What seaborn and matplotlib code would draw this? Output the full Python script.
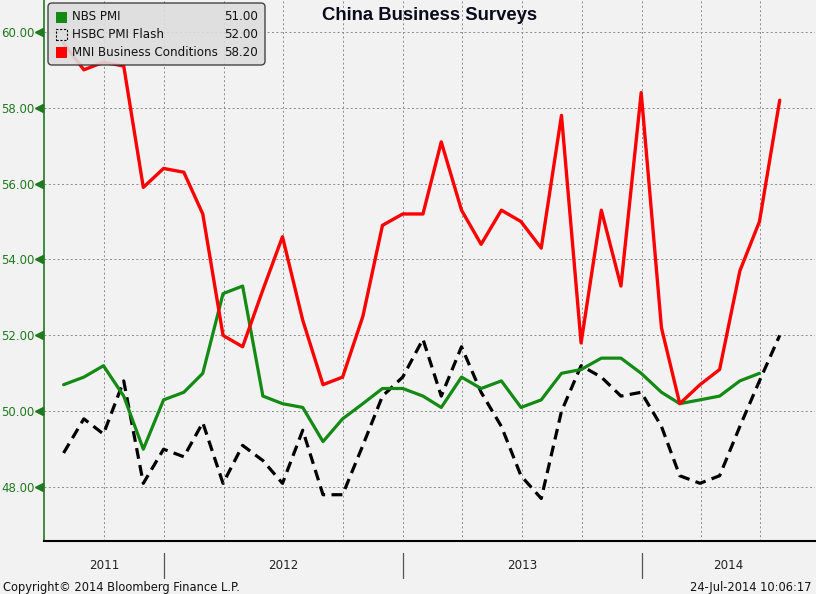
import numpy as np
import pandas as pd
import matplotlib.pyplot as plt
import matplotlib.transforms as mtransforms
from matplotlib.patches import FancyBboxPatch, Rectangle
import seaborn as sns

# Monthly survey readings, Jul-2011 .. Jul-2014
dates = pd.date_range('2011-07-01', periods=37, freq='MS') + pd.offsets.MonthEnd(0)

nbs_pmi = [50.7, 50.9, 51.2, 50.4, 49.0, 50.3,
           50.5, 51.0, 53.1, 53.3, 50.4, 50.2, 50.1, 49.2, 49.8, 50.2, 50.6, 50.6,
           50.4, 50.1, 50.9, 50.6, 50.8, 50.1, 50.3, 51.0, 51.1, 51.4, 51.4, 51.0,
           50.5, 50.2, 50.3, 50.4, 50.8, 51.0]
hsbc_flash = [48.9, 49.8, 49.4, 50.8, 48.1, 49.0,
              48.8, 49.7, 48.1, 49.1, 48.7, 48.1, 49.5, 47.8, 47.8, 49.1, 50.4, 50.9,
              51.9, 50.4, 51.7, 50.5, 49.6, 48.3, 47.7, 50.0, 51.2, 50.9, 50.4, 50.5,
              49.6, 48.3, 48.1, 48.3, 49.6, 50.8, 52.0]
mni = [59.7, 59.0, 59.2, 59.1, 55.9, 56.4,
       56.3, 55.2, 52.0, 51.7, 53.2, 54.6, 52.4, 50.7, 50.9, 52.5, 54.9, 55.2,
       55.2, 57.1, 55.3, 54.4, 55.3, 55.0, 54.3, 57.8, 51.8, 55.3, 53.3, 58.4,
       52.2, 50.2, 50.7, 51.1, 53.7, 55.0, 58.2]

series_names = ['NBS PMI', 'HSBC PMI Flash', 'MNI Business Conditions']
years = [2011, 2012, 2013, 2014]

bg = '#f2f2f2'
green = '#138a13'
red = '#ff0000'
axis_green = '#1f7a1f'

sns.set_style('white', rc={'axes.facecolor': bg, 'figure.facecolor': bg})
plt.rcParams['font.family'] = ['DejaVu Sans']

fig = plt.figure(figsize=(8.16, 5.94), dpi=100)
ax = fig.add_axes([44 / 816, 53 / 594, 771 / 816, 541 / 594])
ax.set_facecolor(bg)

sns.lineplot(x=dates, y=hsbc_flash, ax=ax, color='black', lw=2.3,
             linestyle=(0, (3.4, 2.0)), zorder=3)
sns.lineplot(x=dates[:len(nbs_pmi)], y=nbs_pmi, ax=ax, color=green, lw=2.3, zorder=4)
sns.lineplot(x=dates, y=mni, ax=ax, color=red, lw=2.4, zorder=5)
ax.set_xlabel('')
ax.set_ylabel('')

xmin = pd.Timestamp('2011-07-01')
xmax = pd.Timestamp('2014-09-23')
ax.set_xlim(xmin, xmax)
ax.set_ylim(46.58, 60.84)

# grid
yt = np.arange(48, 61, 2)
ax.set_yticks(yt)
ax.set_yticks(np.arange(47, 61, 2), minor=True)
ax.set_yticklabels([f'{v:.2f}' for v in yt])
quarters = pd.date_range('2011-10-01', '2014-07-01', freq='QS')
ax.set_xticks(quarters)
ax.set_xticklabels([])
ax.set_xticks(pd.date_range('2011-08-01', '2014-09-01', freq='MS'), minor=True)
ax.grid(True, which='major', color='#8a8a8a', lw=0.7, linestyle=(0, (2, 2.5)))
ax.tick_params(axis='x', which='major', length=0)
ax.tick_params(axis='x', which='minor', length=5, width=1, color='black', direction='out')
ax.tick_params(axis='y', which='major', length=0, pad=7, labelcolor=axis_green, labelsize=8.5)
ax.tick_params(axis='y', which='minor', length=4, width=1, color=axis_green, direction='out')

for s in ['top', 'right']:
    ax.spines[s].set_visible(False)
ax.spines['left'].set_color(axis_green)
ax.spines['left'].set_linewidth(1.2)
ax.spines['bottom'].set_color('black')
ax.spines['bottom'].set_linewidth(1.5)

# arrow-like y tick marks
ytrans = mtransforms.blended_transform_factory(ax.transAxes, ax.transData)
ax.plot(np.full(len(yt), -0.006), yt, marker='<', ms=6, color=axis_green, lw=0,
        transform=ytrans, clip_on=False, zorder=6)

# year labels and separators
xtrans = mtransforms.blended_transform_factory(ax.transData, ax.transAxes)
for y in years:
    a = max(pd.Timestamp(f'{y}-01-01'), xmin)
    b = min(pd.Timestamp(f'{y + 1}-01-01'), xmax)
    mid = a + (b - a) / 2
    ax.text(mid, -0.045, str(y), transform=xtrans, ha='center', va='center',
            fontsize=8.6, color='#222222')
    if y > years[0]:
        ax.plot([pd.Timestamp(f'{y}-01-01')] * 2, [-0.022, -0.068], transform=xtrans,
                color='#555555', lw=0.9, clip_on=False)

ax.text(0.5, 1 - 16 / 541, 'China Business Surveys', transform=ax.transAxes,
        ha='center', va='center', fontsize=13.3, fontweight='bold', color='#0a0a1a',
        family=['Liberation Sans', 'DejaVu Sans'])

# legend box
box = FancyBboxPatch((48, 594 - 65), 217, 62, boxstyle='round,pad=0,rounding_size=4',
                     transform=None, facecolor='#dddddd', edgecolor='#333333',
                     lw=1, alpha=0.9, zorder=7)
fig.patches.append(box)
last_vals = [nbs_pmi[-1], hsbc_flash[-1], mni[-1]]
swatch = [dict(facecolor=green, edgecolor=green, lw=0),
          dict(facecolor='none', edgecolor='black', lw=0.8, linestyle=(0, (2, 1.5))),
          dict(facecolor=red, edgecolor=red, lw=0)]
for i, (name, val) in enumerate(zip(series_names, last_vals)):
    yc = 594 - (17 + i * 17.5)
    fig.patches.append(Rectangle((56, yc - 5.5), 11, 11, transform=None, zorder=8, **swatch[i]))
    fig.text(72 / 816, yc / 594, name, ha='left', va='center', fontsize=8.6,
             color='#111111', zorder=8)
    fig.text(258 / 816, yc / 594, f'{val:.2f}', ha='right', va='center', fontsize=8.6,
             color='#111111', zorder=8)

fig.text(3 / 816, 7 / 594, 'Copyright\u00a9 2014 Bloomberg Finance L.P.', ha='left',
         va='center', fontsize=8.3, color='#111111')
fig.text(812 / 816, 7 / 594, '24-Jul-2014 10:06:17', ha='right', va='center',
         fontsize=8.3, color='#111111')

fig.savefig('out.png', dpi=100, facecolor=bg)
